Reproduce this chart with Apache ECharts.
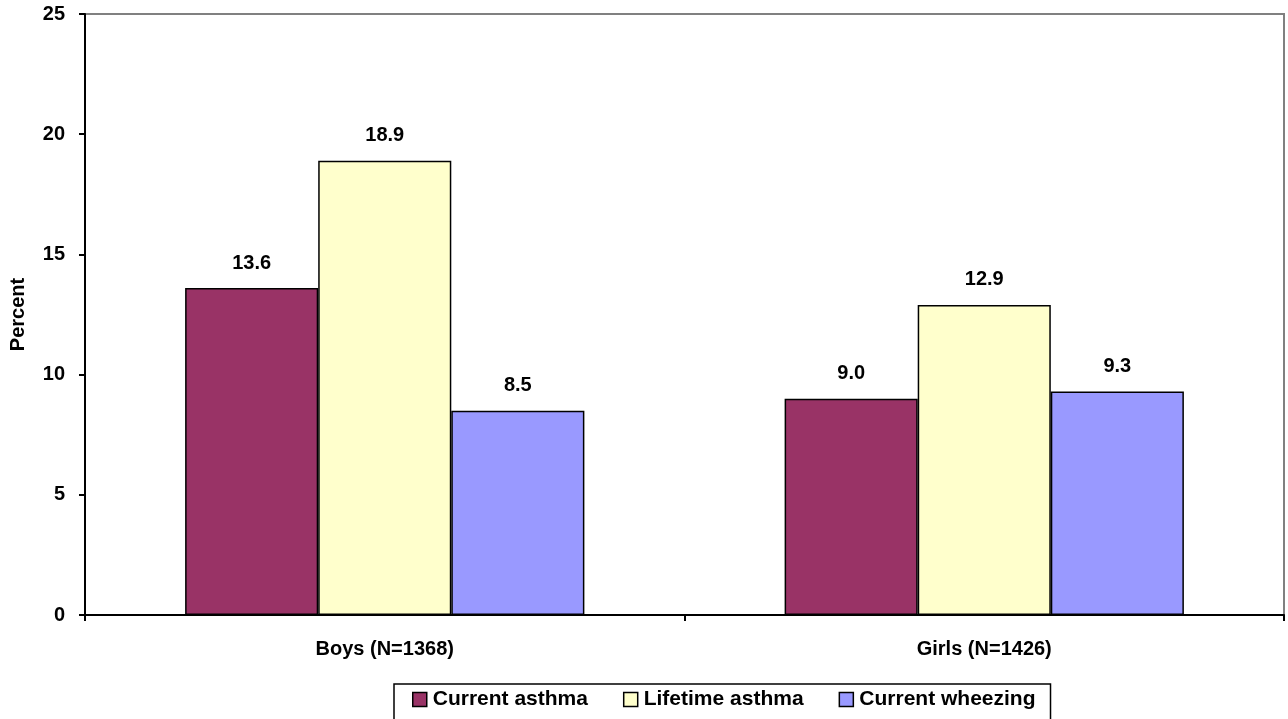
<!DOCTYPE html>
<html><head><meta charset="utf-8">
<script src="https://cdn.jsdelivr.net/npm/echarts@6/dist/echarts.min.js"></script>
<style>html,body{margin:0;padding:0;background:#fff}#c{width:1288px;height:719px}</style>
</head><body><div id="c"></div>
<script>
const categories = ['Boys (N=1368)', 'Girls (N=1426)'];
const currentAsthma = [13.6, 9.0];
const lifetimeAsthma = [18.9, 12.9];
const currentWheezing = [8.5, 9.3];
const seriesNames = ['Current asthma', 'Lifetime asthma', 'Current wheezing'];
const colors = ['#993366', '#FFFFCC', '#9999FF'];
const font = 'Arial, "Liberation Sans", sans-serif';

const chart = echarts.init(document.getElementById('c'));
const mk = (name, data, color) => ({
  name, type: 'bar', data,
  barGap: '0%', barCategoryGap: '33.4%',
  itemStyle: { color, borderColor: '#000', borderWidth: 1.5 },
  label: { show: true, position: 'top', distance: 15, fontFamily: font, fontWeight: 'bold', fontSize: 20, color: '#000',
    formatter: p => p.value.toFixed(1) }
});
chart.setOption({
  animation: false,
  grid: { left: 85, right: 4, top: 14, bottom: 104, show: true, borderColor: '#808080', borderWidth: 2,
    backgroundColor: 'transparent', outerBoundsMode: 'none', containLabel: false },
  legend: {
    top: 684, left: 394, itemWidth: 14, itemHeight: 14, itemGap: 35,
    padding: [5, 15, 20, 18], borderColor: '#000', borderWidth: 1.5,
    textStyle: { fontFamily: font, fontWeight: 'bold', fontSize: 21, color: '#000', padding: [0, 0, 0, 1] },
    itemStyle: { borderColor: '#000', borderWidth: 1.5 },
    icon: 'rect',
    data: seriesNames
  },
  xAxis: {
    type: 'category', data: categories,
    axisLine: { lineStyle: { color: '#000', width: 2 } },
    axisTick: { show: true, length: 6, lineStyle: { color: '#000', width: 2 } },
    axisLabel: { fontFamily: font, fontWeight: 'bold', fontSize: 20, color: '#000', margin: 24 }
  },
  yAxis: {
    type: 'value', min: 0, max: 25, interval: 5,
    name: 'Percent', nameLocation: 'middle', nameGap: 57, nameRotate: 90,
    nameTextStyle: { fontFamily: font, fontWeight: 'bold', fontSize: 20, color: '#000' },
    axisLine: { show: true, lineStyle: { color: '#000', width: 2 } },
    axisTick: { show: true, length: 6, lineStyle: { color: '#000', width: 2 } },
    splitLine: { show: false },
    axisLabel: { fontFamily: font, fontWeight: 'bold', fontSize: 20, color: '#000', margin: 20 }
  },
  series: [
    mk(seriesNames[0], currentAsthma, colors[0]),
    mk(seriesNames[1], lifetimeAsthma, colors[1]),
    mk(seriesNames[2], currentWheezing, colors[2])
  ]
});
</script></body></html>
